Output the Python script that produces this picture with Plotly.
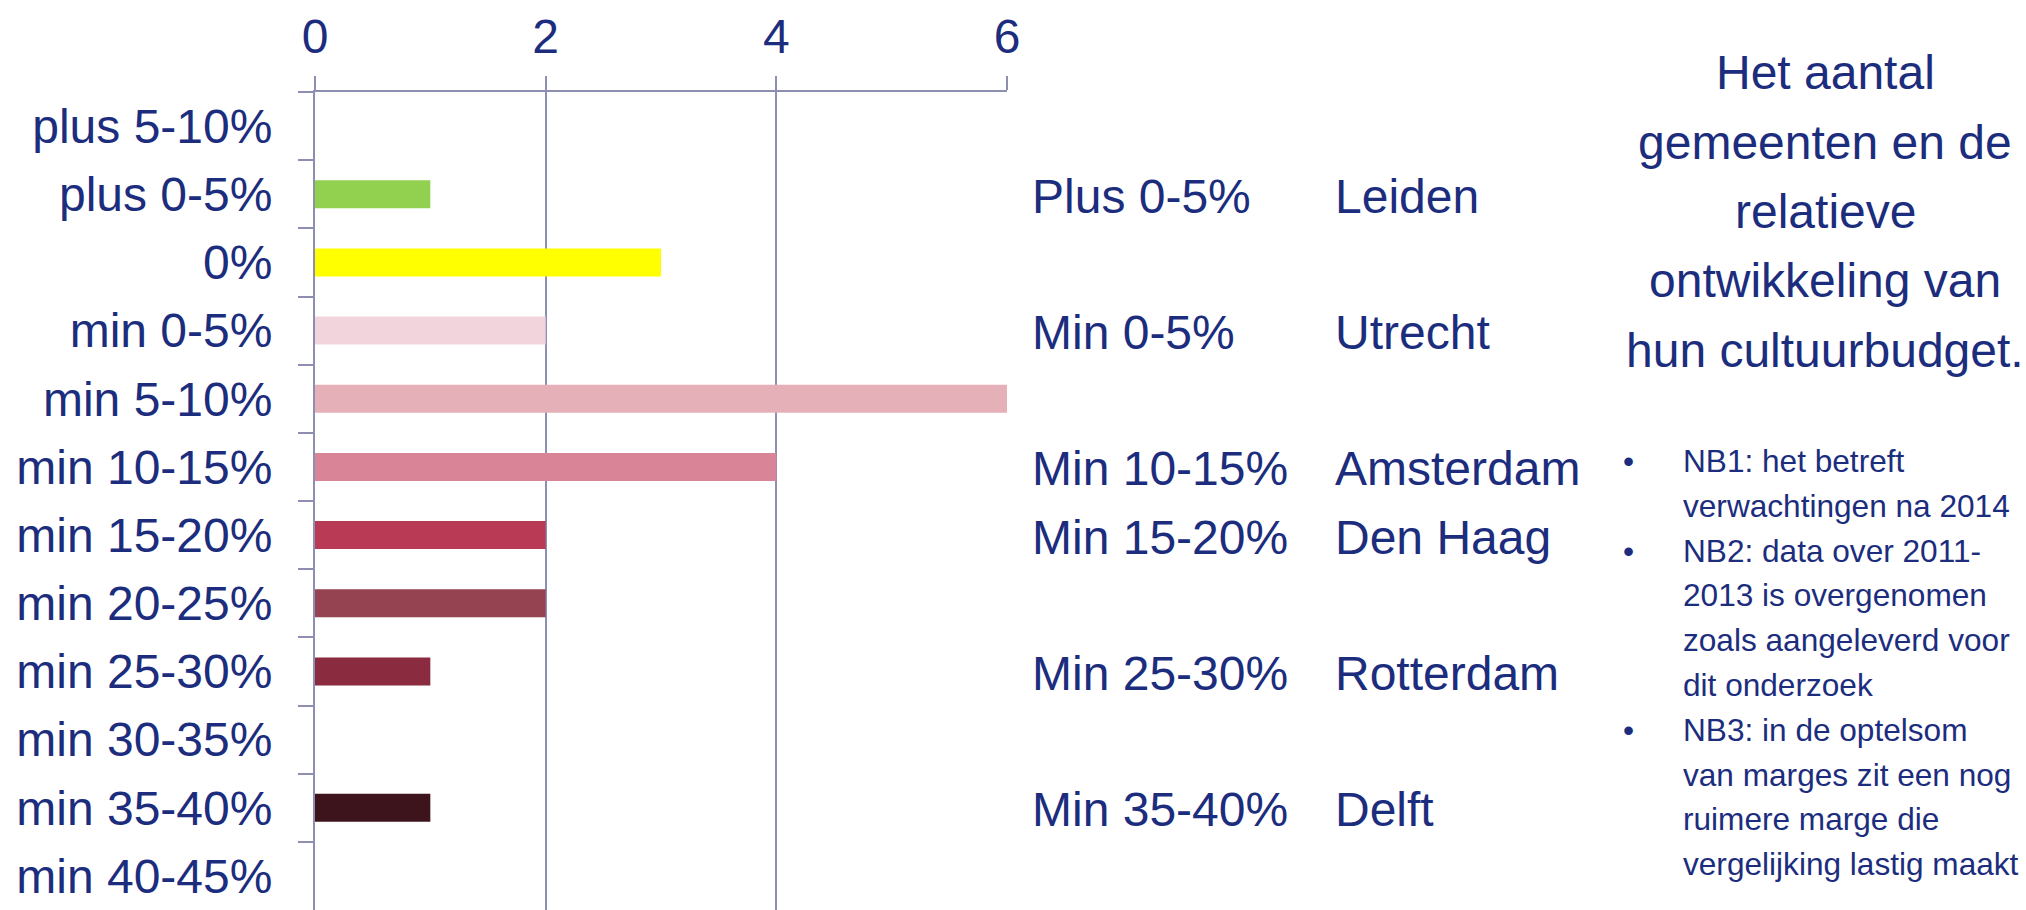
import plotly.graph_objects as go

# ---- data ----
categories = ["plus 5-10%", "plus 0-5%", "0%", "min 0-5%", "min 5-10%", "min 10-15%",
              "min 15-20%", "min 20-25%", "min 25-30%", "min 30-35%", "min 35-40%", "min 40-45%"]
counts = [0, 1, 3, 2, 6, 4, 2, 2, 1, 0, 1, 0]
bar_colors = ["#92d050", "#92d050", "#ffff00", "#f2d5dc", "#e6b0b9", "#da8597",
              "#b93a55", "#954351", "#8a2b3f", "#6a1f2e", "#3d141c", "#3d141c"]
x_ticks = [0, 2, 4, 6]

city_categories = ["plus 0-5%", "min 0-5%", "min 10-15%", "min 15-20%", "min 25-30%", "min 35-40%"]
city_range_labels = ["Plus 0-5%", "Min 0-5%", "Min 10-15%", "Min 15-20%", "Min 25-30%", "Min 35-40%"]
cities = ["Leiden", "Utrecht", "Amsterdam", "Den Haag", "Rotterdam", "Delft"]

title_lines = ["Het aantal", "gemeenten en de", "relatieve", "ontwikkeling van", "hun cultuurbudget."]
notes = [
    ["NB1: het betreft", "verwachtingen na 2014"],
    ["NB2: data over 2011-", "2013 is overgenomen", "zoals aangeleverd voor", "dit onderzoek"],
    ["NB3: in de optelsom", "van marges zit een nog", "ruimere marge die", "vergelijking lastig maakt"],
]

# ---- style ----
W, H = 2026, 910
ML, MR, MT, MB = 315, 2026 - 1007, 92, 0
TXT = "#1c2d7e"
AX = "#8c8fb0"
FONT = "Arial, Liberation Sans, sans-serif"
BIG = 48
SMALL = 31.6

pw = W - ML - MR
ph = H - MT - MB


def px_x(px):
    return (px - ML) / pw


def px_y(py):
    return (H - MB - py) / ph


fig = go.Figure()
fig.add_trace(go.Bar(
    x=counts, y=categories, orientation="h",
    marker=dict(color=bar_colors, line=dict(width=0)),
    showlegend=False, hoverinfo="x+y",
))

annotations = []
# right-hand table of ranges and cities
for cat, lab, city in zip(city_categories, city_range_labels, cities):
    annotations.append(dict(x=px_x(1030), xref="paper", y=cat, yref="y", text=lab,
                            xanchor="left", yanchor="middle", showarrow=False, yshift=-2,
                            font=dict(size=BIG, color=TXT, family=FONT)))
    annotations.append(dict(x=px_x(1333), xref="paper", y=cat, yref="y", text=city,
                            xanchor="left", yanchor="middle", showarrow=False, yshift=-2,
                            font=dict(size=BIG, color=TXT, family=FONT)))

# title block
title_top = 73
title_pitch = 69.3
for i, line in enumerate(title_lines):
    annotations.append(dict(x=px_x(1825), xref="paper", y=px_y(title_top + i * title_pitch), yref="paper",
                            text=line, xanchor="center", yanchor="middle", showarrow=False,
                            font=dict(size=BIG, color=TXT, family=FONT)))

# notes with bullets
note_top = 461
note_pitch = 44.8
k = 0
for note in notes:
    annotations.append(dict(x=px_x(1628), xref="paper", y=px_y(note_top + k * note_pitch), yref="paper",
                            text="•", xanchor="center", yanchor="middle", showarrow=False,
                            font=dict(size=SMALL, color=TXT, family=FONT)))
    for line in note:
        annotations.append(dict(x=px_x(1681), xref="paper", y=px_y(note_top + k * note_pitch), yref="paper",
                                text=line, xanchor="left", yanchor="middle", showarrow=False,
                                font=dict(size=SMALL, color=TXT, family=FONT)))
        k += 1

fig.update_layout(
    width=W, height=H,
    margin=dict(l=ML, r=MR, t=MT, b=MB, pad=0),
    paper_bgcolor="white", plot_bgcolor="white",
    bargap=0.59,
    font=dict(family=FONT, color=TXT, size=BIG),
    annotations=annotations,
    xaxis=dict(
        side="top", range=[0, 6], tickvals=x_ticks, showgrid=True, gridcolor=AX, gridwidth=1.5,
        showline=True, linecolor=AX, linewidth=2, ticks="outside", ticklen=14, tickcolor=AX,
        tickwidth=1.5, tickfont=dict(size=BIG, color=TXT, family=FONT), zeroline=False,
        ticklabelstandoff=4,
    ),
    yaxis=dict(
        categoryorder="array", categoryarray=categories, autorange="reversed",
        showline=True, linecolor=AX, linewidth=2, ticks="outside", tickson="boundaries",
        ticklen=15, tickcolor=AX, tickwidth=2, showgrid=False,
        tickfont=dict(size=BIG, color=TXT, family=FONT), ticklabelstandoff=31,
    ),
)

fig.write_html(
    "out.html",
    config={"displayModeBar": False},
    post_script="document.body.style.margin='0px';document.body.style.overflow='hidden';",
)
